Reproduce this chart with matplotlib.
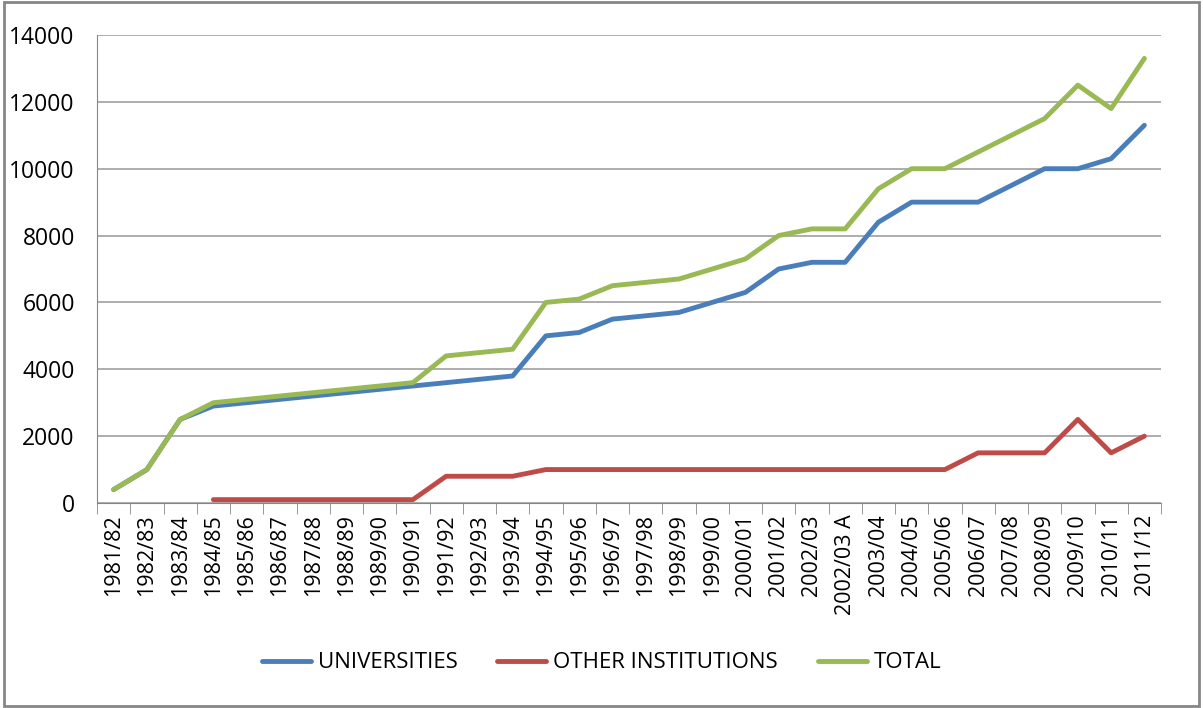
import matplotlib
matplotlib.use('Agg')
import matplotlib.pyplot as plt
from matplotlib.patches import Rectangle

years = ['1981/82', '1982/83', '1983/84', '1984/85', '1985/86', '1986/87', '1987/88',
         '1988/89', '1989/90', '1990/91', '1991/92', '1992/93', '1993/94', '1994/95',
         '1995/96', '1996/97', '1997/98', '1998/99', '1999/00', '2000/01', '2001/02',
         '2002/03', '2002/03 A', '2003/04', '2004/05', '2005/06', '2006/07', '2007/08',
         '2008/09', '2009/10', '2010/11', '2011/12']

universities = [400, 1000, 2500, 2900, 3000, 3100, 3200, 3300, 3400, 3500, 3600, 3700,
                3800, 5000, 5100, 5500, 5600, 5700, 6000, 6300, 7000, 7200, 7200, 8400,
                9000, 9000, 9000, 9500, 10000, 10000, 10300, 11300]

other = [None, None, None, 100, 100, 100, 100, 100, 100, 100, 800, 800, 800, 1000,
         1000, 1000, 1000, 1000, 1000, 1000, 1000, 1000, 1000, 1000, 1000, 1000,
         1500, 1500, 1500, 2500, 1500, 2000]

total = [400, 1000, 2500, 3000, 3100, 3200, 3300, 3400, 3500, 3600, 4400, 4500, 4600,
         6000, 6100, 6500, 6600, 6700, 7000, 7300, 8000, 8200, 8200, 9400, 10000, 10000,
         10500, 11000, 11500, 12500, 11800, 13300]

plt.rcParams['font.family'] = ['Open Sans', 'DejaVu Sans']

fig = plt.figure(figsize=(12.03, 7.08), dpi=100)
ax = fig.add_axes([97/1203, 1 - 503/708, (1161-97)/1203, (503-35)/708])

x = list(range(len(years)))
other_x = [i for i, v in enumerate(other) if v is not None]
other_y = [v for v in other if v is not None]

ax.plot(x, universities, color='#4a7ebb', lw=3.5, label='UNIVERSITIES', solid_capstyle='round')
ax.plot(other_x, other_y, color='#be4b48', lw=3.5, label='OTHER INSTITUTIONS', solid_capstyle='round')
ax.plot(x, total, color='#98b954', lw=3.5, label='TOTAL', solid_capstyle='round')

ax.set_xlim(-0.5, len(years) - 0.5)
ax.set_ylim(0, 14000)
ax.set_yticks(range(0, 14001, 2000))
ax.tick_params(axis='y', labelsize=16.5, length=0, pad=16)
ax.set_xticks(x)
ax.set_xticklabels(years, rotation=90, fontsize=15.5)
ax.tick_params(axis='x', length=0, pad=8)
ax.set_xticks([i - 0.5 for i in range(len(years) + 1)], minor=True)
ax.tick_params(axis='x', which='minor', length=8, color='#868686', direction='out')

ax.grid(axis='y', color='#a0a0a0', lw=1.2)
ax.set_axisbelow(True)
for s in ['top', 'right']:
    ax.spines[s].set_visible(False)
ax.spines['left'].set_color('#868686')
ax.spines['bottom'].set_color('#868686')

fig.legend(loc='center', bbox_to_anchor=(0.5, 1 - 663/708), ncol=3, frameon=False,
           fontsize=16, handlelength=2.2, columnspacing=1.8, handletextpad=0.3)

fig.patches.append(Rectangle((0.003, 0.003), 0.994, 0.994, transform=fig.transFigure,
                             fill=False, edgecolor='#868686', lw=2))

fig.savefig('out.png', dpi=100)
